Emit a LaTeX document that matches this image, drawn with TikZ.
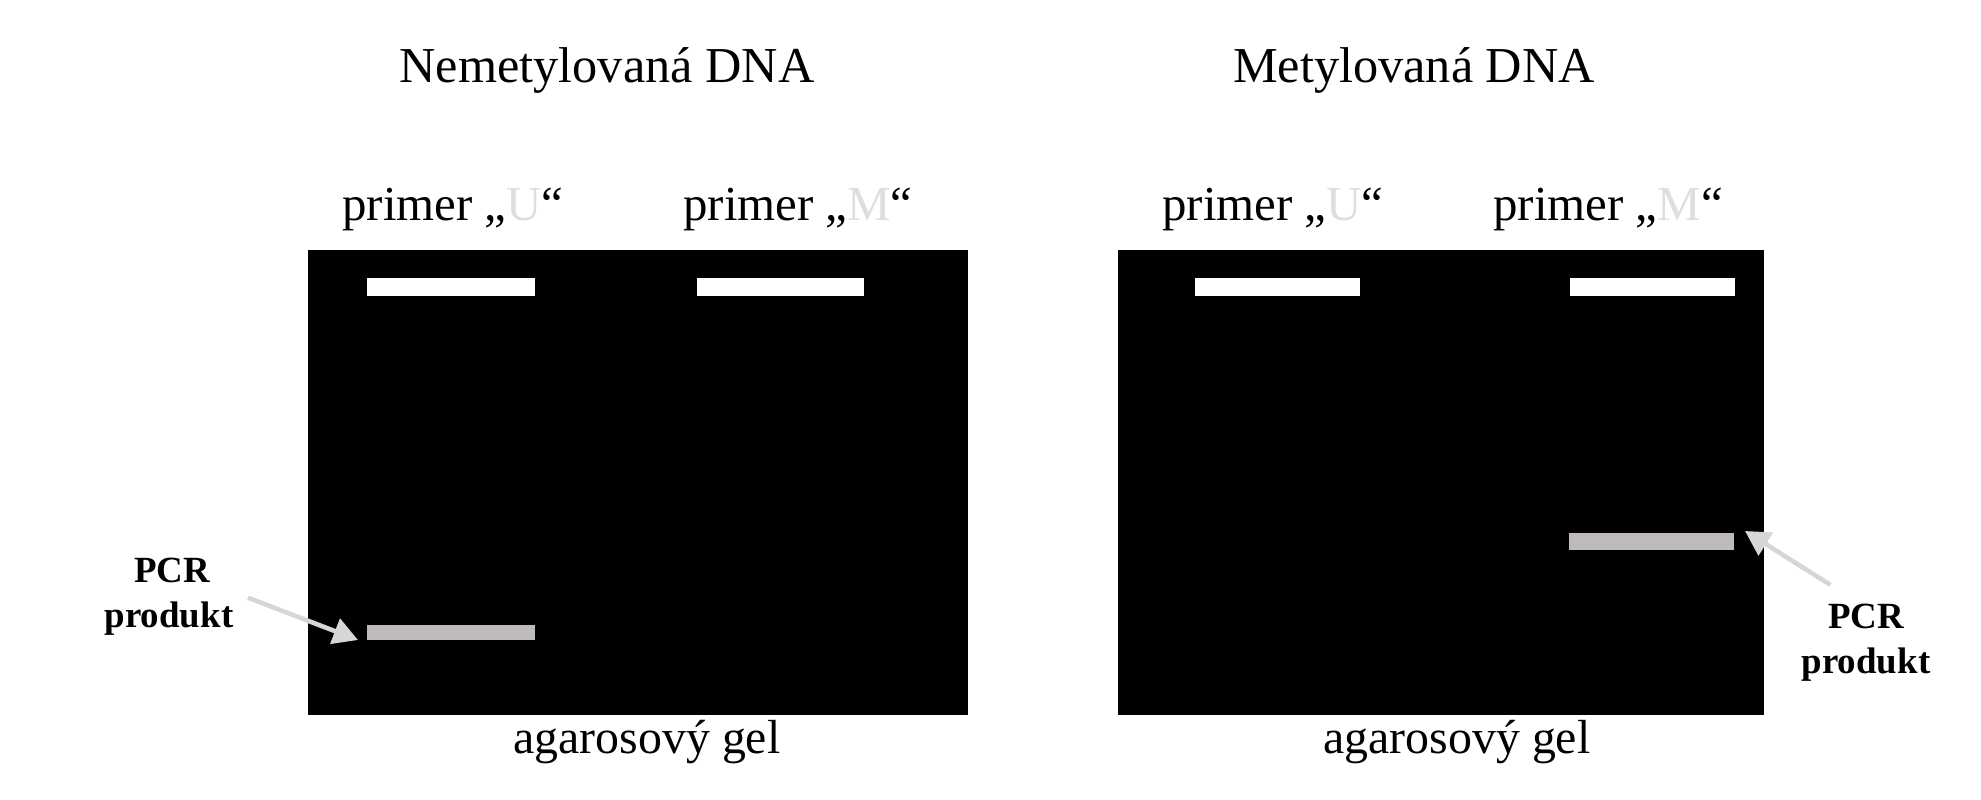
\documentclass[tikz,border=0pt]{standalone}
\usepackage{fontspec}
\setmainfont{Liberation Serif}
\usetikzlibrary{arrows.meta,calc}

\definecolor{bandgray}{RGB}{190,186,186}
\definecolor{arrowgray}{RGB}{214,214,214}
\definecolor{lettergray}{RGB}{222,222,222}

\tikzset{
  titlelabel/.style={anchor=base,inner sep=0pt,font=\fontsize{14.3}{17}\selectfont},
  primerlabel/.style={anchor=base,inner sep=0pt,font=\fontsize{13.9}{17}\selectfont},
  gellabel/.style={anchor=base,inner sep=0pt,font=\fontsize{13.6}{16}\selectfont},
  pcrlabel/.style={anchor=base,inner sep=0pt,font=\bfseries\fontsize{10.5}{13}\selectfont},
  pcrarrow/.style={draw=arrowgray,line width=1.3pt,-{Triangle[length=7pt,width=7.5pt,fill=arrowgray]}},
}
\newcommand{\grayletter}[1]{\textcolor{lettergray}{#1}}

\begin{document}
\begin{tikzpicture}[x=0.01cm,y=-0.01cm]
    \useasboundingbox (0,0) rectangle (1981,800);
    \node[titlelabel] (titleU) at (607,83) {Nemetylovaná DNA};
    \node[titlelabel] (titleM) at (1414,83) {Metylovaná DNA};
    \node[primerlabel] (primerUl) at (453,220) {primer „\grayletter{U}“};
    \node[primerlabel] (primerMl) at (798,220) {primer „\grayletter{M}“};
    \node[primerlabel] (primerUr) at (1273,220) {primer „\grayletter{U}“};
    \node[primerlabel] (primerMr) at (1608,220) {primer „\grayletter{M}“};
    \fill[black] (308,250) rectangle (968,715); % left gel
    \fill[black] (1118,250) rectangle (1764,715); % right gel
    \fill[white] (367,278) rectangle (535,296); % wells
    \fill[white] (697,278) rectangle (864,296);
    \fill[white] (1195,278) rectangle (1360,296);
    \fill[white] (1570,278) rectangle (1735,296);
    \fill[bandgray] (367,625) rectangle (535,640); % PCR products
    \fill[bandgray] (1569,533) rectangle (1734,550);
    \node[gellabel] (gelL) at (647,753) {agarosový gel};
    \node[gellabel] (gelR) at (1457,753) {agarosový gel};
    \node[pcrlabel] (pcrL) at (172,582) {PCR};
    \node[pcrlabel] (prodL) at (169,627) {produkt};
    \node[pcrlabel] (pcrR) at (1866,628) {PCR};
    \node[pcrlabel] (prodR) at (1866,673) {produkt};
    \coordinate (tipL) at (358,640);
    \coordinate (tipR) at (1745,531);
    \draw[pcrarrow] ($(prodL.north east)+(14,-3)$) -- (tipL);
    \draw[pcrarrow] ($(pcrR.north west)+(3,-18)$) -- (tipR);
\end{tikzpicture}
\end{document}
